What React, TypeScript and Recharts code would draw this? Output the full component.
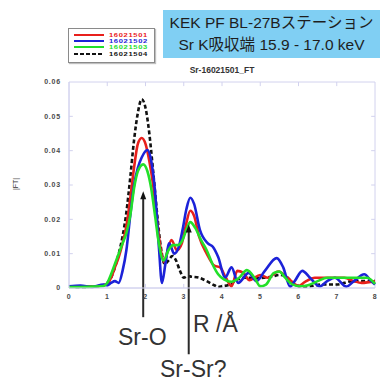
import React from "react";
import { LineChart, Line, XAxis, YAxis, ReferenceLine, ReferenceArea } from "recharts";

// [R (Å), |FT|] pairs
const s16021501: [number, number][] = [
  [0, 0.0005], [0.3, 0.0004], [0.6, 0.0004], [0.9, 0.0008], [1.0, 0.0012], [1.1, 0.003], [1.2, 0.006],
  [1.3, 0.009], [1.4, 0.013], [1.5, 0.018], [1.6, 0.026], [1.7, 0.035], [1.8, 0.042], [1.9, 0.0437],
  [2.0, 0.042], [2.1, 0.037], [2.2, 0.03], [2.3, 0.02], [2.4, 0.011], [2.5, 0.0075], [2.58, 0.011],
  [2.68, 0.014], [2.82, 0.011], [2.95, 0.013], [3.05, 0.018], [3.17, 0.0225], [3.27, 0.021], [3.4, 0.015],
  [3.6, 0.01], [3.8, 0.0065], [3.95, 0.006], [4.1, 0.003], [4.25, 0.0005], [4.4, 0.005], [4.55, 0.0045],
  [4.72, 0.0023], [5.0, 0.0038], [5.2, 0.003], [5.47, 0.0048], [5.78, 0.0023], [6.0, 0.0006], [6.17, 0.0018],
  [6.43, 0.003], [6.8, 0.003], [7.2, 0.003], [7.45, 0.002], [7.65, 0.0015], [8.0, 0.002],
];
const s16021502: [number, number][] = [
  [0, 0.0005], [0.3, 0.0007], [0.6, 0.0003], [0.9, 0.001], [1.0, 0.0008], [1.1, 0.0015], [1.2, 0.002],
  [1.3, 0.0015], [1.4, 0.005], [1.5, 0.011], [1.6, 0.021], [1.7, 0.03], [1.8, 0.035], [1.9, 0.038],
  [2.05, 0.0402], [2.15, 0.037], [2.25, 0.028], [2.35, 0.012], [2.43, 0.0015], [2.52, 0.007], [2.62, 0.013],
  [2.75, 0.01], [2.87, 0.012], [2.97, 0.017], [3.07, 0.023], [3.17, 0.0263], [3.27, 0.0245], [3.42, 0.017],
  [3.63, 0.013], [3.76, 0.012], [3.9, 0.009], [4.08, 0.003], [4.25, 0.006], [4.42, 0.0015], [4.7, 0.0044],
  [4.9, 0.002], [5.12, 0.005], [5.43, 0.0087], [5.6, 0.006], [5.78, 0.0004], [5.9, 0.002], [6.1, 0.005],
  [6.3, 0.003], [6.55, 0.0005], [6.75, 0.002], [6.95, 0.003], [7.25, 0.0004], [7.45, 0.002], [7.72, 0.004],
  [7.9, 0.002], [8.0, 0.001],
];
const s16021503: [number, number][] = [
  [0, 0.0003], [0.3, 0.0003], [0.6, 0.0004], [0.9, 0.0006], [1.0, 0.0015], [1.1, 0.004], [1.2, 0.007],
  [1.3, 0.01], [1.4, 0.013], [1.5, 0.016], [1.6, 0.021], [1.7, 0.029], [1.8, 0.034], [1.94, 0.036],
  [2.05, 0.034], [2.15, 0.029], [2.25, 0.021], [2.35, 0.013], [2.47, 0.008], [2.6, 0.011], [2.72, 0.0125],
  [2.85, 0.0125], [2.97, 0.014], [3.07, 0.017], [3.17, 0.0192], [3.3, 0.0175], [3.45, 0.014], [3.6, 0.011],
  [3.75, 0.007], [3.9, 0.004], [4.05, 0.0025], [4.25, 0.0018], [4.45, 0.003], [4.65, 0.0052], [4.85, 0.003],
  [5.0, 0.0005], [5.15, 0.001], [5.35, 0.0043], [5.5, 0.0048], [5.65, 0.003], [5.85, 0.001], [6.05, 0.0005],
  [6.25, 0.0008], [6.5, 0.002], [6.75, 0.003], [7.1, 0.003], [7.5, 0.003], [7.8, 0.003], [8.0, 0.0012],
];
const s16021504: [number, number][] = [
  [0, 0.0004], [0.3, 0.0003], [0.6, 0.0004], [0.9, 0.0008], [1.0, 0.0015], [1.1, 0.003], [1.2, 0.006],
  [1.3, 0.01], [1.4, 0.015], [1.5, 0.022], [1.6, 0.032], [1.7, 0.043], [1.8, 0.051], [1.9, 0.055],
  [2.0, 0.0525], [2.1, 0.045], [2.2, 0.034], [2.3, 0.022], [2.4, 0.012], [2.5, 0.007], [2.6, 0.008],
  [2.7, 0.0093], [2.8, 0.008], [2.9, 0.005], [3.0, 0.003], [3.1, 0.0035], [3.2, 0.0033], [3.4, 0.003],
  [3.6, 0.002], [3.8, 0.0008], [3.9, 0.0003], [4.0, 0.0005], [4.2, 0.001], [4.4, 0.0025], [4.6, 0.003],
  [4.85, 0.0029], [5.1, 0.003], [5.3, 0.0033], [5.5, 0.0038], [5.65, 0.0035], [5.9, 0.001], [6.1, 0.0004],
  [6.3, 0.0005], [6.6, 0.001], [7.0, 0.001], [7.4, 0.002], [7.8, 0.002], [8.0, 0.002],
];

const seriesNames = ["16021501", "16021502", "16021503", "16021504"];
const seriesColors = ["#e8201c", "#1c22d8", "#22e02a", "#111111"];
const xTicks = [0, 1, 2, 3, 4, 5, 6, 7, 8];
const yTicks = [0, 0.01, 0.02, 0.03, 0.04, 0.05, 0.06];
// annotation arrows: [R, tip |FT|, tail |FT|]
const arrowSrO: [number, number, number] = [1.94, 0.0282, -0.0085];
const arrowSrSr: [number, number, number] = [3.13, 0.0185, -0.0193];

const toData = (pts: [number, number][]) => pts.map(([r, v]) => ({ r, v }));

const boxColor = "#d2d2ee";

const Arrow = (p: any) => {
  const { x1, y1, x2, y2 } = p;
  const top = Math.min(y1, y2);
  const bot = Math.max(y1, y2);
  return (
    <g>
      <line x1={x1} y1={top + 5} x2={x2} y2={bot} stroke="#2a2a2a" strokeWidth={2} />
      <polygon points={`${x1},${top} ${x1 - 3},${top + 8} ${x1 + 3},${top + 8}`} fill="#111" />
    </g>
  );
};

const tickStyle = { fontSize: 7, fontWeight: 700, fill: "#4a4a4a", fontFamily: "Liberation Sans, Arial", letterSpacing: 0.8 };

export default function App() {
  return (
    <div style={{ position: "absolute", left: 0, top: 0, width: 380, height: 380, background: "#fff", fontFamily: "Liberation Sans, Arial, sans-serif" }}>
      <LineChart width={380} height={380} margin={{ top: 82, right: 5, bottom: 72, left: 29 }}>
        <XAxis
          type="number"
          dataKey="r"
          domain={[0, 8]}
          ticks={xTicks}
          allowDuplicatedCategory={false}
          height={20}
          tickSize={3}
          tickMargin={3}
          tickLine={false}
          axisLine={{ stroke: boxColor }}
          tick={tickStyle}
        />
        <YAxis
          type="number"
          dataKey="v"
          domain={[0, 0.06]}
          ticks={yTicks}
          width={40}
          tickSize={4}
          tickMargin={4}
          tickLine={false}
          axisLine={{ stroke: boxColor }}
          tick={tickStyle}
          tickFormatter={(v: number) => (v === 0 ? "0" : v.toFixed(2))}
        />
        <ReferenceArea x1={0} x2={8} y1={0} y2={0.06} fill="none" stroke={boxColor} strokeWidth={1} />
        {xTicks.slice(1, -1).map((t) => (
          <ReferenceLine key={"tt" + t} segment={[{ x: t, y: 0.06 }, { x: t, y: 0.0588 }]} stroke={boxColor} />
        ))}
        {xTicks.slice(1, -1).map((t) => (
          <ReferenceLine key={"bt" + t} segment={[{ x: t, y: 0 }, { x: t, y: 0.0012 }]} stroke={boxColor} />
        ))}
        {yTicks.slice(1, -1).map((t) => (
          <ReferenceLine key={"rt" + t} segment={[{ x: 8, y: t }, { x: 7.9, y: t }]} stroke={boxColor} />
        ))}
        {yTicks.slice(1, -1).map((t) => (
          <ReferenceLine key={"lt" + t} segment={[{ x: 0, y: t }, { x: 0.1, y: t }]} stroke={boxColor} />
        ))}
        <Line data={toData(s16021504)} dataKey="v" type="monotone" stroke={seriesColors[3]} strokeWidth={2.6} strokeDasharray="4 2.5" dot={false} isAnimationActive={false} />
        <Line data={toData(s16021501)} dataKey="v" type="monotone" stroke={seriesColors[0]} strokeWidth={2.6} dot={false} isAnimationActive={false} />
        <Line data={toData(s16021502)} dataKey="v" type="monotone" stroke={seriesColors[1]} strokeWidth={2.6} dot={false} isAnimationActive={false} />
        <Line data={toData(s16021503)} dataKey="v" type="monotone" stroke={seriesColors[2]} strokeWidth={2.6} dot={false} isAnimationActive={false} />
        <ReferenceLine
          segment={[{ x: arrowSrO[0], y: arrowSrO[1] }, { x: arrowSrO[0], y: arrowSrO[2] }]}
          ifOverflow="visible"
          shape={Arrow}
        />
        <ReferenceLine
          segment={[{ x: arrowSrSr[0], y: arrowSrSr[1] }, { x: arrowSrSr[0], y: arrowSrSr[2] }]}
          ifOverflow="visible"
          shape={Arrow}
        />
      </LineChart>

      {/* chart title */}
      <div style={{ position: "absolute", left: 140, width: 164, top: 65, textAlign: "center", fontSize: 8.5, fontWeight: 700, color: "#333", lineHeight: "10px" }}>
        Sr-16021501_FT
      </div>

      {/* y axis label */}
      <div style={{ position: "absolute", left: 4, top: 180, width: 24, textAlign: "center", fontSize: 7, color: "#333", transform: "rotate(-90deg)", lineHeight: "8px" }}>
        |FT|
      </div>

      {/* legend */}
      <div style={{ position: "absolute", left: 68, top: 28, width: 85, height: 33, border: "1.5px solid #8a8a8a", background: "#fff", boxShadow: "1px 1px 1px rgba(0,0,0,0.25)" }}>
        {seriesNames.map((n, i) => (
          <div key={n} style={{ position: "absolute", left: 5, top: 2.5 + i * 6.4, height: 6, width: 80 }}>
            <svg width={30} height={6} style={{ position: "absolute", left: 0, top: 0 }}>
              <line x1={0} y1={3} x2={30} y2={3} stroke={seriesColors[i]} strokeWidth={2} strokeDasharray={i === 3 ? "4 2" : undefined} />
            </svg>
            <span style={{ position: "absolute", left: 35, top: 0, fontSize: 5.6, fontWeight: 700, letterSpacing: 0.5, lineHeight: "6px", color: seriesColors[i], transform: "scaleX(1.35)", transformOrigin: "left center", whiteSpace: "nowrap" }}>{n}</span>
          </div>
        ))}
      </div>

      {/* blue info box */}
      <div style={{ position: "absolute", left: 163, top: 10, width: 217, height: 48, background: "#80cff3", fontFamily: "'Liberation Sans', 'Noto Sans CJK JP', sans-serif", color: "#1e1e1e", fontSize: 15.5, textAlign: "center" }}>
        <div style={{ position: "absolute", left: 0, right: 0, top: 2, lineHeight: "21px", whiteSpace: "nowrap" }}>KEK PF BL-27Bステーション</div>
        <div style={{ position: "absolute", left: 0, right: 0, top: 24, lineHeight: "21px", whiteSpace: "nowrap" }}>Sr K吸収端 15.9 - 17.0 keV</div>
      </div>

      {/* annotations */}
      <div style={{ position: "absolute", left: 118, top: 325.5, fontSize: 23, lineHeight: "23px", color: "#333" }}>Sr-O</div>
      <div style={{ position: "absolute", left: 193, top: 312.5, fontSize: 23, lineHeight: "23px", color: "#333" }}>R /Å</div>
      <div style={{ position: "absolute", left: 160, top: 357.5, fontSize: 23, lineHeight: "23px", color: "#333" }}>Sr-Sr?</div>
    </div>
  );
}
